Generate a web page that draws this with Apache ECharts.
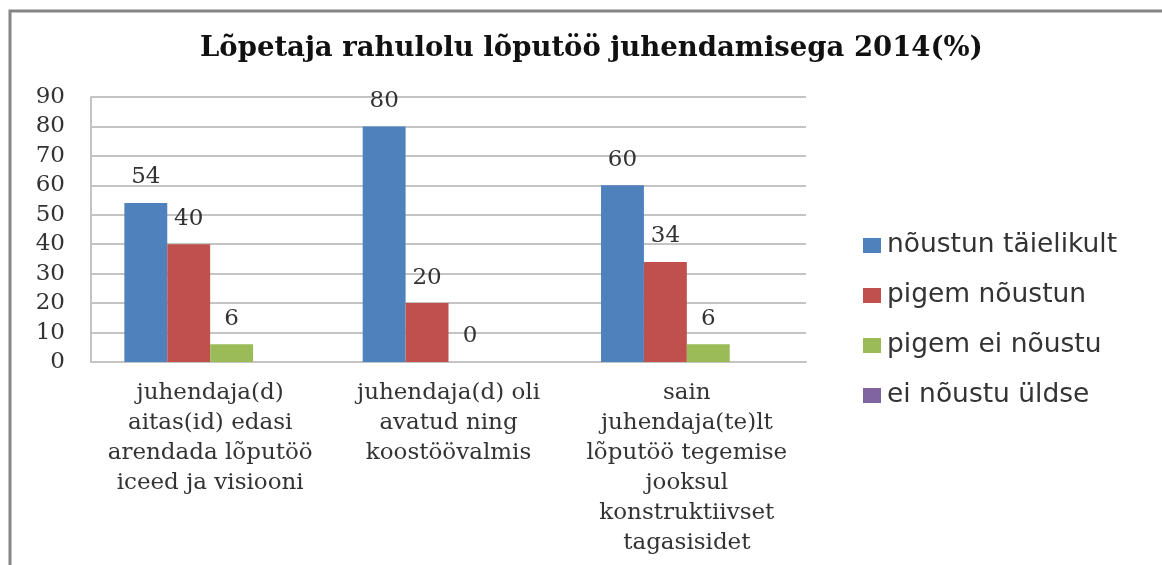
<!doctype html>
<html>
<head>
<meta charset="utf-8">
<script src="https://cdn.jsdelivr.net/npm/echarts@6/dist/echarts.min.js"></script>
<style>
    html, body {margin: 0; padding: 0; background: #fff;}
    #chart {width: 1162px; height: 565px;}
</style>
</head>
<body>
<div id="chart"></div>
<script>
    var categories = [
        'juhendaja(d)\naitas(id) edasi\narendada lõputöö\niceed ja visiooni',
        'juhendaja(d) oli\navatud ning\nkoostöövalmis',
        'sain\njuhendaja(te)lt\nlõputöö tegemise\njooksul\nkonstruktiivset\ntagasisidet'
    ];
    var seriesNames = ['nõustun täielikult', 'pigem nõustun', 'pigem ei nõustu', 'ei nõustu üldse'];
    var taielikult = [54, 80, 60];
    var pigemNoustun = [40, 20, 34];
    var pigemEi = [6, 0, 6];
    var uldse = [0, 0, 0];
    var colors = ['#4F81BD', '#C0504D', '#9BBB59', '#8064A2'];

    var serif = 'DejaVu Serif';
    var dom = document.getElementById('chart');
    var myChart = echarts.init(dom);

    function bar(name, data, color, showLabel) {
        return {
            name: name,
            type: 'bar',
            data: data,
            barGap: 0,
            barCategoryGap: '28%',
            itemStyle: {color: color},
            label: {
                show: showLabel,
                position: 'top',
                distance: 14,
                fontFamily: serif,
                fontSize: 23,
                color: '#333'
            }
        };
    }

    var option = {
        animation: false,
        color: colors,
        graphic: [{
            type: 'rect',
            shape: {x: 10, y: 11, width: 1200, height: 600},
            style: {fill: 'none', stroke: '#858585', lineWidth: 3},
            silent: true
        }],
        title: {
            text: 'Lõpetaja rahulolu lõputöö juhendamisega 2014(%)',
            left: 195,
            top: 30,
            textStyle: {fontFamily: serif, fontWeight: 'bold', fontSize: 27.5, color: '#111'}
        },
        legend: {
            orient: 'vertical',
            left: 858,
            top: 227,
            itemWidth: 18,
            itemHeight: 15,
            itemGap: 23,
            icon: 'rect',
            textStyle: {fontFamily: 'DejaVu Sans', fontSize: 26.5, color: '#333', padding: [0, 0, 0, 1]},
            data: seriesNames
        },
        grid: {left: 91, right: 356, top: 97, bottom: 203},
        xAxis: {
            type: 'category',
            data: categories,
            axisTick: {show: false},
            axisLine: {lineStyle: {color: '#c4c4c4', width: 2}},
            axisLabel: {
                interval: 0,
                margin: 16,
                fontFamily: serif,
                fontSize: 23,
                lineHeight: 30,
                color: '#333'
            }
        },
        yAxis: {
            type: 'value',
            min: 0,
            max: 90,
            interval: 10,
            axisLine: {show: true, lineStyle: {color: '#c4c4c4', width: 2}},
            axisTick: {show: false},
            splitLine: {lineStyle: {color: '#c4c4c4', width: 2}},
            axisLabel: {margin: 26, fontFamily: serif, fontSize: 23, color: '#333'}
        },
        series: [
            bar(seriesNames[0], taielikult, colors[0], true),
            bar(seriesNames[1], pigemNoustun, colors[1], true),
            bar(seriesNames[2], pigemEi, colors[2], true),
            bar(seriesNames[3], uldse, colors[3], false)
        ]
    };
    myChart.setOption(option);
</script>
</body>
</html>
